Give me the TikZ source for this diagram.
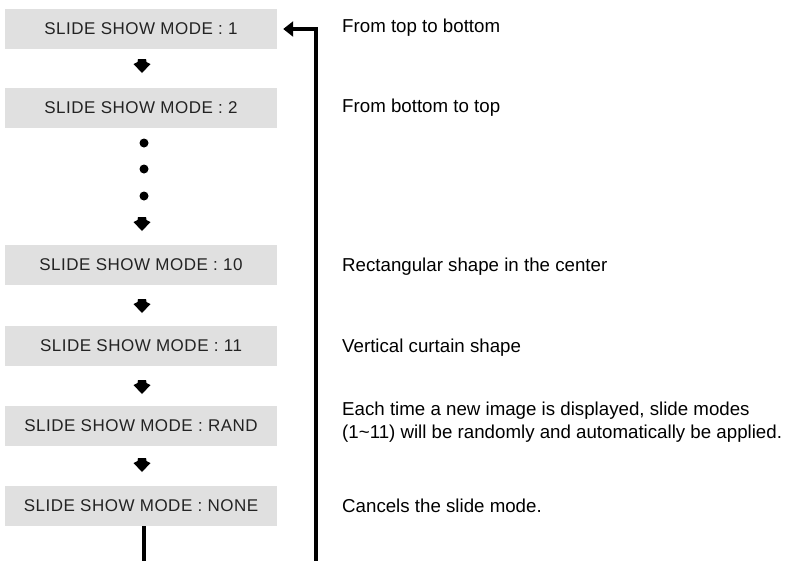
\documentclass[tikz,border=0pt]{standalone}
\usepackage{fontspec}
\setmainfont{Liberation Sans}
\newfontfamily\boxfont[LetterSpace=3]{Liberation Sans}
\usetikzlibrary{arrows.meta}
\definecolor{boxgray}{RGB}{224,224,224}
\definecolor{boxtext}{RGB}{35,35,35}
\tikzset{
  modebox/.style={fill=boxgray, minimum width=272pt, minimum height=40pt, inner sep=0pt,
    font=\boxfont\fontsize{17pt}{20pt}\selectfont, text=boxtext},
  desc/.style={anchor=base west, inner sep=0pt, align=left,
    font=\fontsize{18.7pt}{23pt}\selectfont},
  flowhead/.pic={\fill (-4,0) -- (4,0) -- (4.5,3) -- (8.5,5) -- (0,14) -- (-8.5,5) -- (-4.5,3) -- cycle;},
  flowdot/.style={fill=black},
  feedback/.style={line width=4.5pt, -{Triangle[length=10pt,width=15pt]}, shorten >=6pt}
}
\begin{document}
\begin{tikzpicture}[x=1pt,y=-1pt]
\useasboundingbox (0,0) rectangle (789,560);
\clip (0,0) rectangle (789,560);
\fill[white] (0,0) rectangle (789,560);

\node[modebox] (b1) at (141,29)  {SLIDE SHOW MODE : 1};
\node[modebox] (b2) at (141,108) {SLIDE SHOW MODE : 2};
\node[modebox] (b3) at (141,265) {SLIDE SHOW MODE : 10};
\node[modebox] (b4) at (141,346) {SLIDE SHOW MODE : 11};
\node[modebox] (b5) at (141,426) {SLIDE SHOW MODE : RAND};
\node[modebox] (b6) at (141,506) {SLIDE SHOW MODE : NONE};

\pic at (142,59) {flowhead};
\fill[flowdot] (144,143) circle[radius=4.5pt];
\fill[flowdot] (144,169) circle[radius=4.5pt];
\fill[flowdot] (144,196) circle[radius=4.5pt];
\pic at (142,217) {flowhead};
\pic at (142,299) {flowhead};
\pic at (142,380) {flowhead};
\pic at (142,458) {flowhead};

\node[desc] (d1) at (342,32)  {From top to bottom};
\node[desc] (d2) at (342,112) {From bottom to top};
\node[desc] (d3) at (342,271) {Rectangular shape in the center};
\node[desc] (d4) at (342,352) {Vertical curtain shape};
\node[desc] (d5) at (342,438) {Each time a new image is displayed, slide modes\\(1\textasciitilde 11) will be randomly and automatically be applied.};
\node[desc] (d6) at (342,512) {Cancels the slide mode.};

\coordinate (lowL) at (144,590);
\coordinate (lowR) at (316,590);
\draw[feedback] (b6.south -| lowL) -- (lowL) -- (lowR) |- (b1.east);
\end{tikzpicture}
\end{document}
